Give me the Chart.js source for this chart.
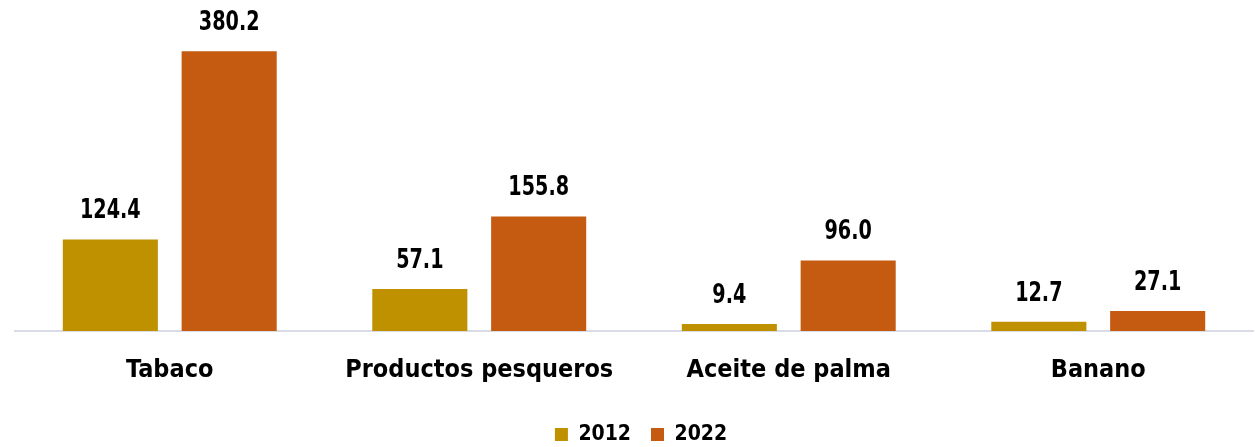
<!DOCTYPE html>
<html>
<head>
<meta charset="utf-8">
<script src="https://cdn.jsdelivr.net/npm/chart.js@4"></script>
<style>
  html, body { margin: 0; padding: 0; background: #fff; }
  #wrap { width: 1255px; height: 447px; position: relative; }
</style>
</head>
<body>
<div id="wrap"><canvas id="exportChart"></canvas></div>
<script>
const categories = ["Tabaco", "Productos pesqueros", "Aceite de palma", "Banano"];
const values2012 = [124.4, 57.1, 9.4, 12.7];
const values2022 = [380.2, 155.8, 96.0, 27.1];
const seriesNames = ["2012", "2022"];

const FONT = "'Liberation Sans Narrow', 'Arial Narrow', 'DejaVu Sans Condensed', sans-serif";

// draws the value above each bar (slightly condensed, like the original)
const valueLabels = {
    id: 'valueLabels',
    afterDatasetsDraw(chart) {
        const c = chart.ctx;
        chart.data.datasets.forEach((ds, i) => {
            chart.getDatasetMeta(i).data.forEach((bar, j) => {
                c.save();
                c.font = "bold 27px " + FONT;
                c.fillStyle = "#000";
                c.textAlign = "center";
                c.textBaseline = "alphabetic";
                c.translate(bar.x, bar.y - 21);
                c.scale(0.79, 1);
                c.fillText(ds.data[j].toFixed(1), 0, 0);
                c.restore();
            });
        });
    }
};

// tweak legend box size and nudge it a little to the right
const legendShift = {
    id: 'legendShift',
    beforeInit(chart) {
        const fit = chart.legend.fit;
        chart.legend.fit = function () {
            fit.call(this);
            this.height -= 8;
        };
    },
    afterLayout(chart) {
        chart.legend.left += 7;
        chart.legend.right += 7;
    }
};

new Chart(document.getElementById("exportChart"), {
    type: 'bar',
    data: {
        labels: categories,
        datasets: [
            { label: seriesNames[0], data: values2012, backgroundColor: "#BF9000" },
            { label: seriesNames[1], data: values2022, backgroundColor: "#C55A11" }
        ]
    },
    options: {
        responsive: true,
        maintainAspectRatio: false,
        animation: false,
        categoryPercentage: 0.768,
        barPercentage: 0.8,
        layout: { padding: { left: 15, right: 2, top: 0, bottom: 0 } },
        plugins: {
            legend: {
                position: 'bottom',
                labels: {
                    font: { family: FONT, size: 21, weight: 'bold' },
                    color: "#000",
                    boxWidth: 13,
                    boxHeight: 13,
                    padding: 20
                }
            },
            tooltip: { enabled: false }
        },
        scales: {
            x: {
                grid: { display: false, drawTicks: false },
                border: { color: "#D9DCE6", width: 2 },
                ticks: {
                    font: { family: FONT, size: 25, weight: 'bold' },
                    color: "#000",
                    padding: 24
                },
                afterFit: axis => { axis.height = 73; }
            },
            y: {
                display: false,
                min: 0,
                max: 450
            }
        }
    },
    plugins: [valueLabels, legendShift]
});
</script>
</body>
</html>
